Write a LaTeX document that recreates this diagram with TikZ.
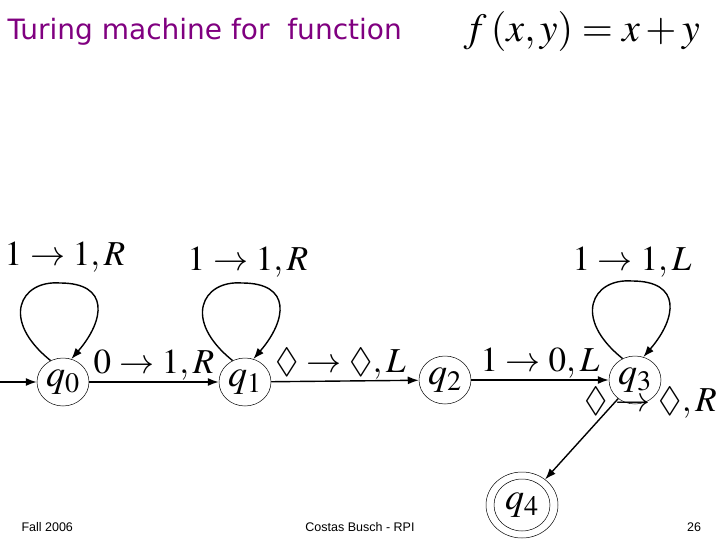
\documentclass[tikz,border=0pt]{standalone}
\usepackage{amssymb}
\usepackage{mathptmx}
\usepackage{fontspec}
\newfontfamily\ttl{DejaVu Sans}
\newfontfamily\ftr{Liberation Sans}
\usetikzlibrary{arrows.meta,shapes.geometric}
\definecolor{ttlc}{RGB}{128,0,128}
\begin{document}
\begin{tikzpicture}[x=1pt,y=-1pt,
  st/.style={draw,ellipse,minimum width=52pt,minimum height=48pt,inner sep=0pt,line width=0.5pt,font=\fontsize{38}{38}\selectfont},
  ed/.style={line width=1.4pt,-{Latex[length=11pt,width=8pt]}},
  lb/.style={font=\fontsize{35}{36}\selectfont,inner sep=1pt},
  ft/.style={font=\ftr\fontsize{12.5}{13}\selectfont}]
\useasboundingbox (0,0) rectangle (720,540);
\node[anchor=west,text=ttlc,font=\ttl\fontsize{28}{30}\selectfont] (title) at (4,32) {Turing machine for\ \ function};
\node[anchor=west,font=\fontsize{40}{40}\selectfont] (fx) at (460,32) {$f\,(x,y)=x+y$};
\node[st] (q0) at (63,382) {$q_0$};
\node[st] (q1) at (245,382) {$q_1$};
\node[st] (q2) at (445,380) {$q_2$};
\node[st] (q3) at (635,380) {$q_3$};
\node[st,minimum width=56pt,minimum height=52pt] (q4) at (522,505) {$q_4$};
\node[draw,ellipse,minimum width=72pt,minimum height=66pt,line width=0.5pt] (q4o) at (522,505) {};
\coordinate (s) at (0,382);
\draw[ed] (s) -- (q0);
\draw[ed] (q0) -- node[lb,above,pos=0.5] {$0\rightarrow1,R$} (q1);
\draw[ed] (q1) -- node[lb,above,pos=0.47] {$\Diamond\rightarrow\Diamond,L$} (q2);
\draw[ed] (q2) -- node[lb,above,pos=0.5] {$1\rightarrow0,L$} (q3);
\draw[ed] (q3) -- node[lb,right,pos=0.4,xshift=-6pt,yshift=28pt] {$\Diamond\rightarrow\Diamond,R$} (q4o);
\draw[ed] (q0.120) .. controls (0,320) and (20,280) .. (60,283) .. controls (110,283) and (105,320) .. (q0.70);
\draw[ed] (q1.120) .. controls (182,320) and (202,280) .. (242,283) .. controls (292,283) and (287,320) .. (q1.70);
\draw[ed] (q3.120) .. controls (572,318) and (592,278) .. (632,281) .. controls (682,281) and (677,318) .. (q3.70);
\node[lb] (l0) at (65,257) {$1\rightarrow1,R$};
\node[lb] (l1) at (248,262) {$1\rightarrow1,R$};
\node[lb] (l3) at (632,262) {$1\rightarrow1,L$};
\node[ft,anchor=west] (f1) at (18,527) {Fall 2006};
\node[ft] (f2) at (360,527) {Costas Busch - RPI};
\node[ft] (f3) at (694,527) {26};
\end{tikzpicture}
\end{document}
